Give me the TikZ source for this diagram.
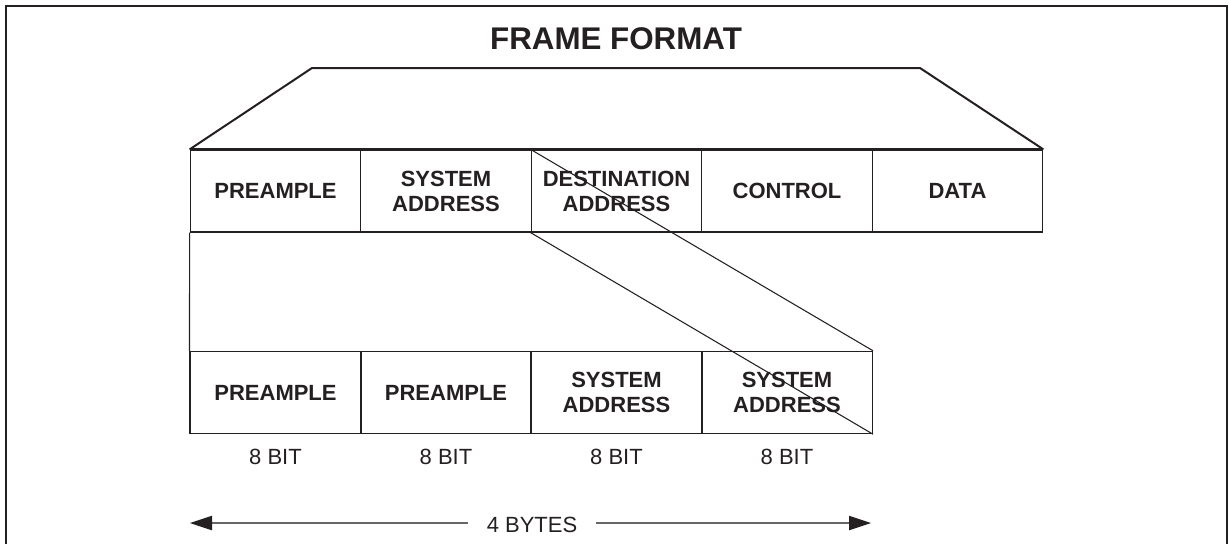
\documentclass[tikz,border=0pt]{standalone}
\usepackage{fontspec}
\setmainfont{Liberation Sans}
\usetikzlibrary{arrows.meta}
\definecolor{ink}{rgb}{0.14,0.12,0.13}
\tikzset{
  cell/.style={draw=ink, line width=0.9pt, minimum width=127.95pt, minimum height=61.5pt,
    inner sep=0pt, align=center, text=ink,
    font=\fontsize{16.5}{18.8}\selectfont\bfseries},
  bitlabel/.style={text=ink, anchor=base, inner sep=0pt, font=\fontsize{16.5}{18.8}\selectfont},
  heavy/.style={draw=ink, line width=1.5pt, line join=miter},
  thin/.style={draw=ink, line width=0.8pt},
  bigtip/.style={-{Triangle[length=16.5pt, width=11pt, color=ink, fill=ink, line width=0pt]}},
}
\begin{document}
\begin{tikzpicture}[x=0.75pt,y=-0.75pt]
\useasboundingbox (0,0) rectangle (1229,544);
% outer frame
\draw[ink, line width=2pt] (6,544) -- (6,6) -- (1227,6) -- (1227,544);
% title
\node[anchor=base, text=ink, inner sep=0pt, font=\fontsize{23.5}{26}\selectfont\bfseries] (title) at (616,49) {FRAME FORMAT};
% top row
\node[cell] (tpre)  at (275.5,191) {PREAMPLE};
\node[cell] (tsys)  at (446,191)   {SYSTEM\\ADDRESS};
\node[cell] (tdest) at (616.5,191) {DESTINATION\\ADDRESS};
\node[cell] (tctl)  at (787,191)   {CONTROL};
\node[cell] (tdata) at (957.5,191) {DATA};
% trapezoid
\coordinate (tl) at (312,68);
\coordinate (tr) at (920,68);
\draw[heavy] (tpre.north west) -- (tl) -- (tr) -- (tdata.north east);
\draw[heavy] (tpre.north west) -- (tdata.north east);
% bottom row
\node[cell, line width=1.1pt] (bpre1) at (275.5,392.5) {PREAMPLE};
\node[cell, line width=1.1pt] (bpre2) at (446,392.5)   {PREAMPLE};
\node[cell, line width=1.1pt] (bsys1) at (616.5,392.5) {SYSTEM\\ADDRESS};
\node[cell, line width=1.1pt] (bsys2) at (787,392.5)   {SYSTEM\\ADDRESS};
% connectors
\draw[thin] (tpre.south west) -- (bpre1.north west);
\draw[thin] (tdest.north west) -- (bsys2.north east);
\draw[thin] (tdest.south west) -- (bsys2.south east);
% bit labels
\node[bitlabel] (b1) at (275.5,464) {8 BIT};
\node[bitlabel] (b2) at (446,464)   {8 BIT};
\node[bitlabel] (b3) at (616.5,464) {8 BIT};
\node[bitlabel] (b4) at (787,464)   {8 BIT};
% 4 bytes arrow
\coordinate (al) at (190,523);
\coordinate (ar) at (871,523);
\node[text=ink, inner xsep=14pt, inner ysep=0pt, font=\fontsize{16.5}{18.8}\selectfont] (bytes) at (532,525) {4 BYTES};
\draw[black!60, line width=0.9pt, bigtip] (bytes.east |- ar) -- (ar);
\draw[black!60, line width=0.9pt, bigtip] (bytes.west |- al) -- (al);
\end{tikzpicture}
\end{document}
